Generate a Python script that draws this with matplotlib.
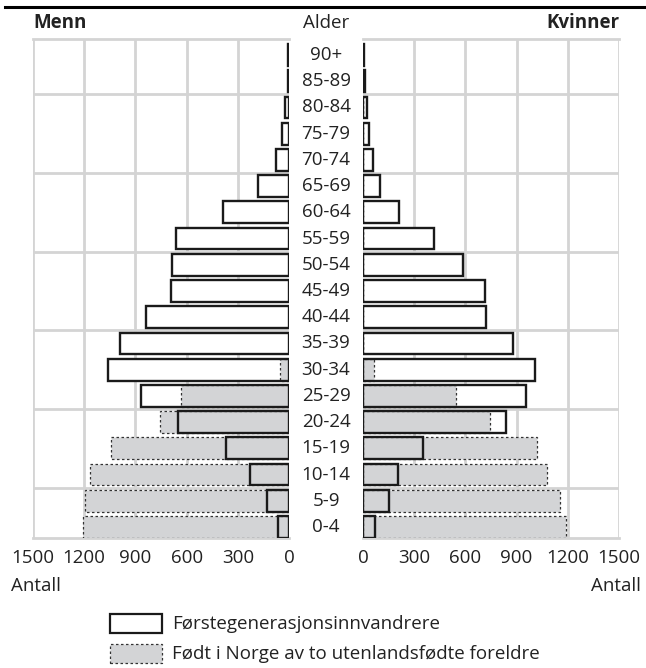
import matplotlib.pyplot as plt
from matplotlib.patches import Rectangle
from matplotlib.lines import Line2D
from matplotlib.transforms import blended_transform_factory

plt.rcParams['font.family'] = ['Open Sans', 'DejaVu Sans']

alder = ['0-4', '5-9', '10-14', '15-19', '20-24', '25-29', '30-34', '35-39', '40-44',
         '45-49', '50-54', '55-59', '60-64', '65-69', '70-74', '75-79', '80-84', '85-89', '90+']

menn_forste = [66, 131, 227, 371, 649, 869, 1059, 992, 840, 690, 687, 664, 385, 180, 76, 43, 23, 8, 5]
menn_norge = [1205, 1193, 1166, 1045, 756, 633, 53, 0, 0, 0, 0, 0, 0, 0, 0, 0, 0, 0, 0]
kvinner_forste = [72, 152, 203, 352, 838, 955, 1008, 881, 723, 715, 588, 414, 213, 100, 59, 35, 26, 10, 5]
kvinner_norge = [1188, 1156, 1080, 1021, 742, 543, 64, 0, 0, 0, 0, 0, 0, 0, 0, 0, 0, 0, 0]

xticks = [0, 300, 600, 900, 1200, 1500]
ygrid = [1.5, 4.5, 7.5, 10.5, 13.5, 16.5]

GRID = '#d4d4d4'
GRAY = '#d3d4d6'
FS = 13.5

fig = plt.figure(figsize=(6.46, 6.68), dpi=100)
W, H = 646, 668


def px_axes(x0, x1, y0, y1):
    return fig.add_axes([x0 / W, 1 - y1 / H, (x1 - x0) / W, (y1 - y0) / H])


ax_m = px_axes(33, 289, 39, 538)
ax_k = px_axes(363, 619, 39, 538)

pos = list(range(len(alder)))
h = 0.83

for ax, forste, norge, outer in [(ax_m, menn_forste, menn_norge, 'left'),
                                 (ax_k, kvinner_forste, kvinner_norge, 'right')]:
    ax.barh(pos, forste, height=h, color='white', edgecolor='none', zorder=2)
    ax.barh(pos, norge, height=h, color=GRAY, edgecolor='#333333',
            linestyle=(0, (2, 2)), linewidth=0.9, zorder=3)
    ax.barh(pos, forste, height=h, color='none', edgecolor='#1a1a1a',
            linewidth=1.7, zorder=4)
    ax.set_xlim(0, 1500)
    ax.set_ylim(-0.42, 18.61)
    ax.set_xticks(xticks)
    ax.set_xticklabels([str(t) for t in xticks])
    ax.set_yticks(ygrid)
    ax.set_yticklabels([])
    ax.tick_params(length=0, labelsize=FS, pad=8, colors='#222222')
    ax.grid(True, color=GRID, linewidth=2, zorder=0)
    ax.set_axisbelow(True)
    for s in ax.spines.values():
        s.set_color(GRID)
        s.set_linewidth(2)
    inner = 'right' if outer == 'left' else 'left'
    ax.spines[inner].set_visible(False)
    ax.spines[outer].set_visible(False)
    ax.xaxis.get_gridlines()[0].set_visible(False)

ax_m.invert_xaxis()

# aldersetiketter i midten
tr = blended_transform_factory(fig.transFigure, ax_m.transData)
for p, a in zip(pos, alder):
    ax_m.text(326 / W, p, a, transform=tr, ha='center', va='center',
              fontsize=FS, color='#222222')

# topptekst
fig.add_artist(Line2D([5 / W, 1], [1 - 7 / H, 1 - 7 / H], color='black', linewidth=2.2))
fig.text(33 / W, 1 - 23 / H, 'Menn', fontsize=FS, fontweight='bold', va='center', ha='left', color='#222222')
fig.text(326 / W, 1 - 23 / H, 'Alder', fontsize=FS, va='center', ha='center', color='#222222')
fig.text(620 / W, 1 - 23 / H, 'Kvinner', fontsize=FS, fontweight='bold', va='center', ha='right', color='#222222')

fig.text(11 / W, 1 - 586 / H, 'Antall', fontsize=FS, va='center', ha='left', color='#222222')
fig.text(641 / W, 1 - 586 / H, 'Antall', fontsize=FS, va='center', ha='right', color='#222222')

# tegnforklaring
fig.add_artist(Rectangle((110 / W, 1 - 633 / H), 52 / W, 19 / H, facecolor='white',
                         edgecolor='#1a1a1a', linewidth=1.6))
fig.add_artist(Rectangle((110 / W, 1 - 663 / H), 52 / W, 19 / H, facecolor=GRAY,
                         edgecolor='#333333', linewidth=0.9, linestyle=(0, (2, 2))))
fig.text(172 / W, 1 - 624 / H, 'Førstegenerasjonsinnvandrere', fontsize=FS, va='center', color='#222222')
fig.text(172 / W, 1 - 654 / H, 'Født i Norge av to utenlandsfødte foreldre', fontsize=FS, va='center', color='#222222')

fig.savefig('out.png', dpi=100)
